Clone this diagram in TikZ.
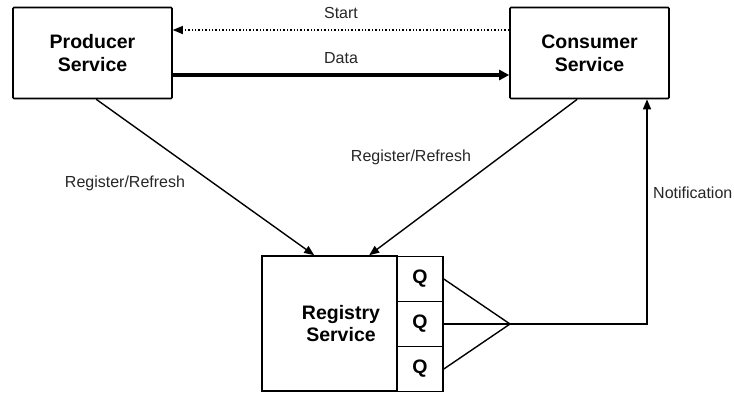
\documentclass[tikz,border=0pt]{standalone}
\usepackage{fontspec}
\setmainfont{Liberation Sans}
\usetikzlibrary{arrows.meta,calc}
\begin{document}
\begin{tikzpicture}[x=1pt,y=-1pt,
  svc/.style={draw,line width=1.6pt,rounded corners=1pt,minimum width=159pt,minimum height=91pt,
    align=center,font=\fontsize{19.5}{23}\selectfont\bfseries,inner sep=0pt},
  qbox/.style={draw,line width=1.6pt,minimum width=46pt,minimum height=45pt,inner sep=0pt,
    font=\fontsize{19.5}{23}\selectfont\bfseries},
  lbl/.style={font=\fontsize{16}{19}\selectfont,text=black!85,inner sep=0pt},
  conn/.style={line width=1.4pt},
  tip/.style={-{Triangle[length=10pt,width=8pt]}}
]
\useasboundingbox (0,0) rectangle (734,392);

% services
\node[svc] (prod) at (92.5,53) {Producer\\Service};
\node[svc] (cons) at (589.5,53) {Consumer\\Service};

% registry with its three queues
\node[draw,line width=1.6pt,minimum width=135pt,minimum height=135pt,inner sep=0pt] (reg) at (329.5,323.5) {};
\node[font=\fontsize{19.5}{22}\selectfont\bfseries,align=center] (regtext) at (341,324) {Registry\\Service};
\node[qbox] (q1) at (420,279) {Q};
\node[qbox] (q2) at (420,324) {Q};
\node[qbox] (q3) at (420,369) {Q};

% messages between the services
\draw[conn,dotted,tip] ([yshift=23pt]cons.west) -- ([yshift=23pt]prod.east);
\node[lbl] (start) at (341,13) {Start};
\draw[line width=4.5pt,-{Triangle[length=10pt,width=10pt]}] ([yshift=-22pt]prod.east) -- ([yshift=-22pt]cons.west);
\node[lbl] (data) at (341,58) {Data};

% registration
\draw[conn,tip] ([xshift=84pt]prod.south west) -- ([xshift=53pt]reg.north west);
\node[lbl] (regl) at (125,183) {Register/Refresh};
\draw[conn,tip] ([xshift=68pt]cons.south west) -- ([xshift=108pt]reg.north west);
\node[lbl] (regr) at (411,157) {Register/Refresh};

% notification fan-in
\coordinate (fan) at (510,324);
\coordinate (turn) at (647,324);
\draw[conn] (q1.east) -- (fan);
\draw[conn] (q2.east) -- (fan);
\draw[conn] (q3.east) -- (fan);
\draw[conn,tip] (fan) -- (turn) -- (turn |- cons.south);
\node[lbl,anchor=west] (notif) at (653,193) {Notification};
\end{tikzpicture}
\end{document}
